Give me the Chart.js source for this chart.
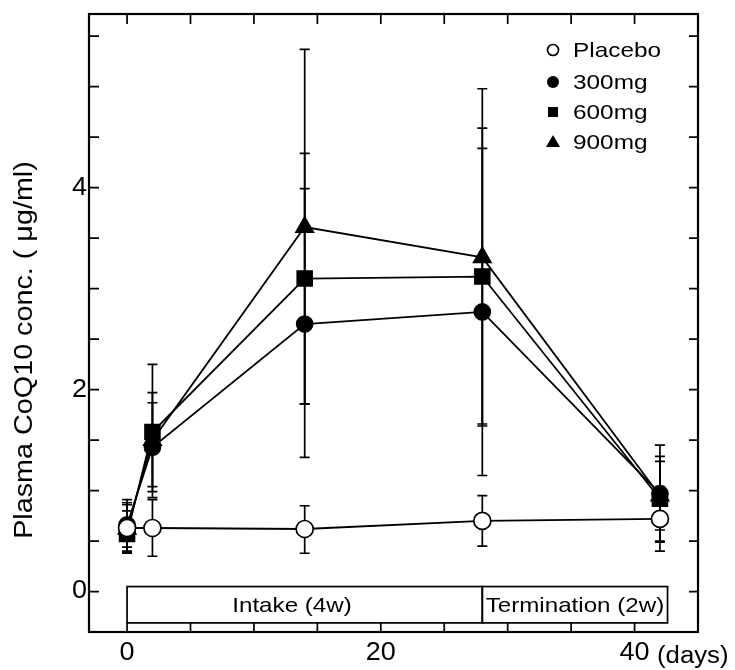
<!DOCTYPE html>
<html>
<head>
<meta charset="utf-8">
<script src="https://cdn.jsdelivr.net/npm/chart.js@4/dist/chart.umd.min.js"></script>
<style>
  body { margin: 0; background: #fff; }
  #wrap { width: 735px; height: 670px; }
</style>
</head>
<body>
<div id="wrap"><canvas id="chart" width="735" height="670"></canvas></div>
<script>
// sampling days
const days = [0, 2, 14, 28, 42];

// means and error bar ends (upper / lower)
const placeboMean = [0.63, 0.63, 0.62, 0.70, 0.72];
const placeboHi = [0.88, 0.91, 0.85, 0.95, 1.04];
const placeboLo = [0.40, 0.35, 0.38, 0.45, 0.40];

const mg300Mean = [0.66, 1.43, 2.65, 2.77, 0.97];
const mg300Hi = [0.86, 1.87, 3.99, 4.39, 1.45];
const mg300Lo = [0.44, 0.99, 1.33, 1.15, 0.49];

const mg600Mean = [0.57, 1.58, 3.10, 3.12, 0.92];
const mg600Hi = [0.80, 2.25, 4.34, 4.59, 1.34];
const mg600Lo = [0.38, 0.93, 1.86, 1.66, 0.50];

const mg900Mean = [0.62, 1.50, 3.61, 3.31, 0.95];
const mg900Hi = [0.91, 1.97, 5.37, 4.98, 1.29];
const mg900Lo = [0.39, 1.04, 1.86, 1.64, 0.61];

const seriesNames = ['Placebo', '300mg', '600mg', '900mg'];

// tick labels
const xTickLabels = [0, 20, 40];
const yTickLabels = [0, 2, 4];

// treatment periods under the curves
const periods = [
    { label: 'Intake (4w)', from: 0, to: 28, textAt: 13 },
    { label: 'Termination (2w)', from: 28, to: 42.6, textAt: 35.3 }
];

const FONT = '"Liberation Sans", Arial, Helvetica, sans-serif';

function pts(means) {
    return days.map((d, i) => ({ x: d, y: means[i] }));
}

function wideText(ctx, text, x, y, size, sx, align) {
    ctx.save();
    ctx.translate(x, y);
    ctx.scale(sx, 1);
    ctx.font = size + 'px ' + FONT;
    ctx.textAlign = align;
    ctx.fillText(text, 0, 0);
    ctx.restore();
}

const errorSets = [
    [placeboHi, placeboLo],
    [mg300Hi, mg300Lo],
    [mg600Hi, mg600Lo],
    [mg900Hi, mg900Lo]
];

const errorBars = {
    id: 'errorBars',
    beforeDatasetsDraw(chart) {
        const ctx = chart.ctx;
        const xs = chart.scales.x, ys = chart.scales.y;
        ctx.save();
        ctx.strokeStyle = '#000';
        ctx.lineWidth = 1.7;
        errorSets.forEach(function(set) {
            days.forEach(function(d, i) {
                const px = xs.getPixelForValue(d);
                const top = ys.getPixelForValue(set[0][i]);
                const bot = ys.getPixelForValue(set[1][i]);
                ctx.beginPath();
                ctx.moveTo(px, top); ctx.lineTo(px, bot);
                ctx.moveTo(px - 5, top); ctx.lineTo(px + 5, top);
                ctx.moveTo(px - 5, bot); ctx.lineTo(px + 5, bot);
                ctx.stroke();
            });
        });
        ctx.restore();
    }
};

const decorations = {
    id: 'decorations',
    afterDraw(chart) {
        const ctx = chart.ctx;
        const a = chart.chartArea;
        const xs = chart.scales.x, ys = chart.scales.y;
        ctx.save();
        ctx.strokeStyle = '#000';
        ctx.fillStyle = '#000';

        // frame
        ctx.lineWidth = 2.2;
        ctx.strokeRect(a.left, a.top, a.right - a.left, a.bottom - a.top);

        // inward ticks
        ctx.lineWidth = 1.7;
        ctx.beginPath();
        for (let d = 0; d <= 45; d += 5) {
            const px = xs.getPixelForValue(d);
            ctx.moveTo(px, a.bottom); ctx.lineTo(px, a.bottom - 9);
            ctx.moveTo(px, a.top); ctx.lineTo(px, a.top + 10);
        }
        for (let v = 0; v <= 5.5; v += 0.5) {
            const py = ys.getPixelForValue(v);
            ctx.moveTo(a.left, py); ctx.lineTo(a.left + 10, py);
            ctx.moveTo(a.right, py); ctx.lineTo(a.right - 9, py);
        }
        ctx.stroke();

        // tick labels
        ctx.textBaseline = 'alphabetic';
        xTickLabels.forEach(function(v) {
            wideText(ctx, String(v), xs.getPixelForValue(v), 660, 25, 1.08, 'center');
        });
        wideText(ctx, '(days)', 657, 663, 23, 1.12, 'left');
        ctx.textBaseline = 'middle';
        yTickLabels.forEach(function(v) {
            wideText(ctx, String(v), 87, ys.getPixelForValue(v), 25, 1.08, 'right');
        });

        // y axis title
        ctx.save();
        ctx.translate(25, 350);
        ctx.rotate(-Math.PI / 2);
        ctx.scale(1.15, 1);
        ctx.font = '25px ' + FONT;
        ctx.textAlign = 'center';
        ctx.textBaseline = 'middle';
        ctx.fillText('Plasma CoQ10 conc. ( \u03bcg/ml)', 0, 0);
        ctx.restore();

        // period boxes
        const boxTop = ys.getPixelForValue(0.05);
        const boxBot = ys.getPixelForValue(-0.31);
        ctx.lineWidth = 1.7;
        periods.forEach(function(p) {
            const x0 = xs.getPixelForValue(p.from);
            const x1 = xs.getPixelForValue(p.to);
            ctx.strokeRect(x0, boxTop, x1 - x0, boxBot - boxTop);
            ctx.textBaseline = 'middle';
            wideText(ctx, p.label, xs.getPixelForValue(p.textAt), (boxTop + boxBot) / 2 + 1, 21, 1.15, 'center');
        });

        // legend
        const rows = [50, 82, 112, 142];
        const mx = 553;
        rows.forEach(function(ry, i) {
            ctx.beginPath();
            if (i === 0) {
                ctx.arc(mx, ry, 5.5, 0, Math.PI * 2);
                ctx.fillStyle = '#fff'; ctx.fill();
                ctx.lineWidth = 1.7; ctx.stroke();
            } else if (i === 1) {
                ctx.arc(mx, ry, 6, 0, Math.PI * 2);
                ctx.fillStyle = '#000'; ctx.fill();
            } else if (i === 2) {
                ctx.fillStyle = '#000';
                ctx.rect(mx - 5, ry - 5, 10, 10); ctx.fill();
            } else {
                ctx.fillStyle = '#000';
                ctx.moveTo(mx, ry - 7); ctx.lineTo(mx + 7, ry + 5); ctx.lineTo(mx - 7, ry + 5);
                ctx.closePath(); ctx.fill();
            }
            ctx.fillStyle = '#000';
            ctx.textBaseline = 'middle';
            wideText(ctx, seriesNames[i], 573, ry + 1, 21, 1.16, 'left');
        });
        ctx.restore();
    }
};

function lineSet(name, means, style, radius, fill) {
    return {
        label: name,
        data: pts(means),
        borderColor: '#000',
        borderWidth: 1.8,
        tension: 0,
        pointStyle: style,
        pointRadius: radius,
        pointBackgroundColor: fill,
        pointBorderColor: '#000',
        pointBorderWidth: 1.7
    };
}

new Chart(document.getElementById('chart'), {
    type: 'line',
    data: {
        datasets: [
            lineSet('Placebo', placeboMean, 'circle', 8.5, '#fff'),
            lineSet('300mg', mg300Mean, 'circle', 8, '#000'),
            lineSet('600mg', mg600Mean, 'rect', 10.5, '#000'),
            lineSet('900mg', mg900Mean, 'triangle', 10, '#000')
        ]
    },
    options: {
        responsive: false,
        animation: false,
        layout: { padding: { left: 89, top: 14, right: 37, bottom: 38 } },
        plugins: { legend: { display: false }, tooltip: { enabled: false } },
        scales: {
            x: { type: 'linear', min: -3, max: 45, display: false },
            y: { type: 'linear', min: -0.4, max: 5.72, display: false }
        }
    },
    plugins: [errorBars, decorations]
});
</script>
</body>
</html>
